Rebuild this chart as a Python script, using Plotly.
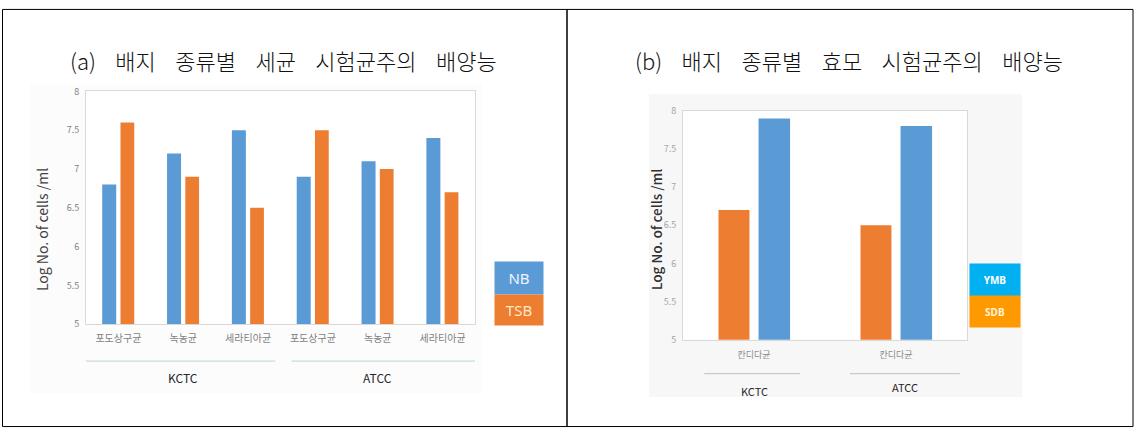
import plotly.graph_objects as go

# ---------------- data ----------------
cats_a = ["포도상구균", "녹농균", "세라티아균", "포도상구균", "녹농균", "세라티아균"]
groups_a = ["KCTC", "KCTC", "KCTC", "ATCC", "ATCC", "ATCC"]
nb_vals = [6.8, 7.2, 7.5, 6.9, 7.1, 7.4]
tsb_vals = [7.6, 6.9, 6.5, 7.5, 7.0, 6.7]

cats_b = ["칸디다균", "칸디다균"]
groups_b = ["KCTC", "ATCC"]
sdb_vals = [6.7, 6.5]
ymb_vals = [7.9, 7.8]

y_ticks = [5, 5.5, 6, 6.5, 7, 7.5, 8]
title_a = "(a) 배지 종류별 세균 시험균주의 배양능"
title_b = "(b) 배지 종류별 효모 시험균주의 배양능"
y_title = "Log No. of cells /ml"

# ---------------- style ----------------
W, H = 1137, 434
BLUE = "#5b9bd5"
ORANGE = "#ed7d31"
FONT = "Noto Sans CJK KR"


def px(x):
    return x / W


def py(y):
    return 1 - y / H


def spaced(t):
    return t.replace(" ", "\u00a0\u00a0\u00a0\u00a0")


xa = [f"{g}|{c}" for g, c in zip(groups_a, cats_a)]
xb = [f"{g}|{c}" for g, c in zip(groups_b, cats_b)]

fig = go.Figure()
fig.add_bar(x=xa, y=nb_vals, name="NB", marker=dict(color=BLUE, line_width=0),
            width=0.216, offset=-0.25, xaxis="x", yaxis="y")
fig.add_bar(x=xa, y=tsb_vals, name="TSB", marker=dict(color=ORANGE, line_width=0),
            width=0.212, offset=0.032, xaxis="x", yaxis="y")
fig.add_bar(x=xb, y=sdb_vals, name="SDB", marker=dict(color=ORANGE, line_width=0),
            width=0.218, offset=-0.25, xaxis="x2", yaxis="y2")
fig.add_bar(x=xb, y=ymb_vals, name="YMB", marker=dict(color=BLUE, line_width=0),
            width=0.222, offset=0.032, xaxis="x2", yaxis="y2")

axis_line = dict(showline=True, mirror=True, linecolor="#d9d9d9", linewidth=1,
                 showgrid=False, zeroline=False, ticks="", fixedrange=True)

fig.update_layout(
    width=W, height=H,
    margin=dict(l=0, r=0, t=0, b=0),
    paper_bgcolor="white",
    plot_bgcolor="white",
    showlegend=False,
    font=dict(family=FONT, color="#595959"),
    xaxis=dict(domain=[px(86), px(475)], anchor="y", type="category",
               tickvals=xa, ticktext=cats_a, range=[-0.5, 5.5],
               tickfont=dict(size=10, color="#7f7f7f", family=FONT),
               ticklabelstandoff=5, **axis_line),
    yaxis=dict(domain=[py(327), py(87)], anchor="x", range=[5, 8],
               tickvals=y_ticks, ticktext=[f"{v:g}" for v in y_ticks],
               tickfont=dict(size=9, color="#7f7f7f", family=FONT),
               ticklabelstandoff=4, **axis_line),
    xaxis2=dict(domain=[px(683), px(967)], anchor="y2", type="category",
                tickvals=xb, ticktext=cats_b, range=[-0.5, 1.5],
                tickfont=dict(size=9, color="#8c8c8c", family=FONT),
                ticklabelstandoff=6, **axis_line),
    yaxis2=dict(domain=[py(343), py(107)], anchor="x2", range=[5, 8],
                tickvals=y_ticks, ticktext=[f"{v:g}" for v in y_ticks],
                tickfont=dict(size=9, color="#a6a6a6", family=FONT),
                ticklabelstandoff=4, **axis_line),
)

shapes = [
    # chart-area tints
    dict(type="rect", xref="paper", yref="paper", x0=px(30), x1=px(482),
         y0=py(398), y1=py(80), fillcolor="#fcfcfc", line_width=0, layer="below"),
    dict(type="rect", xref="paper", yref="paper", x0=px(649), x1=px(1022),
         y0=py(402), y1=py(90), fillcolor="#f7f7f7", line_width=0, layer="below"),
    dict(type="rect", xref="paper", yref="paper", x0=px(683), x1=px(967),
         y0=py(343), y1=py(107), fillcolor="white", line_width=0, layer="below"),
    dict(type="rect", xref="paper", yref="paper", x0=px(86), x1=px(475),
         y0=py(327), y1=py(87), fillcolor="white", line_width=0, layer="below"),
    # outer table borders
    dict(type="rect", xref="paper", yref="paper", x0=px(2.5), x1=px(567),
         y0=py(432.5), y1=py(2.5), line=dict(color="black", width=1)),
    dict(type="rect", xref="paper", yref="paper", x0=px(567), x1=px(1133),
         y0=py(432.5), y1=py(2.5), line=dict(color="black", width=1)),
    # group lines (a)
    dict(type="line", xref="x", yref="paper", x0=-0.53, x1=2.42, y0=py(365), y1=py(365),
         line=dict(color="#b9d4d8", width=1)),
    dict(type="line", xref="x", yref="paper", x0=2.67, x1=5.5, y0=py(365), y1=py(365),
         line=dict(color="#b9d4d8", width=1)),
    # group lines (b)
    dict(type="line", xref="x2", yref="paper", x0=-0.35, x1=0.324, y0=py(378), y1=py(378),
         line=dict(color="#bfbfbf", width=1)),
    dict(type="line", xref="x2", yref="paper", x0=0.676, x1=1.45, y0=py(378), y1=py(378),
         line=dict(color="#bfbfbf", width=1)),
]
fig.update_layout(shapes=shapes)

C = dict(xanchor="center", yanchor="middle", showarrow=False)
ann = [
    dict(text=spaced(title_a), xref="paper", yref="paper", x=px(283), y=py(55),
         font=dict(size=22, color="#111111", family=FONT, weight=300), **C),
    dict(text=spaced(title_b), xref="paper", yref="paper", x=px(849), y=py(55),
         font=dict(size=22, color="#111111", family=FONT, weight=300), **C),
    dict(text=y_title, xref="paper", yref="paper", x=px(42), y=py(230), textangle=-90,
         font=dict(size=14, color="#404040", family=FONT), **C),
    dict(text=y_title, xref="paper", yref="paper", x=px(656), y=py(230), textangle=-90,
         font=dict(size=13.5, color="#303030", family=FONT, weight=500), **C),
    # group labels
    dict(text=groups_a[1], xref="x", yref="paper", x=xa[1], y=py(382),
         font=dict(size=12, color="#262626", family=FONT), **C),
    dict(text=groups_a[4], xref="x", yref="paper", x=xa[4], y=py(382),
         font=dict(size=12, color="#262626", family=FONT), **C),
    dict(text=groups_b[0], xref="x2", yref="paper", x=xb[0], y=py(396),
         font=dict(size=11, color="#262626", family=FONT), **C),
    dict(text=groups_b[1], xref="x2", yref="paper", x=1.06, y=py(392),
         font=dict(size=11, color="#262626", family=FONT), **C),
    # legends (a)
    dict(text="NB", xref="paper", yref="paper", x=px(519), y=py(279),
         width=48, height=32, borderpad=0, bgcolor="#5b9bd5",
         font=dict(size=15, color="#eef4ff", family="Noto Sans"), **C),
    dict(text="TSB", xref="paper", yref="paper", x=px(519), y=py(312),
         width=48, height=30, borderpad=0, bgcolor="#ed7d31",
         font=dict(size=15, color="#ffe9c8", family="Noto Sans"), **C),
    # legends (b)
    dict(text="<b>YMB</b>", xref="paper", yref="paper", x=px(995), y=py(281),
         width=50, height=32, borderpad=0, bgcolor="#00b0f0",
         font=dict(size=10, color="white", family="Noto Sans"), **C),
    dict(text="<b>SDB</b>", xref="paper", yref="paper", x=px(995), y=py(313.5),
         width=50, height=31, borderpad=0, bgcolor="#ff9900",
         font=dict(size=10, color="#fff3dc", family="Noto Sans"), **C),
]
fig.update_layout(annotations=ann)

fig.write_html("out.html", config={"displayModeBar": False},
               post_script="document.body.style.margin='0';")
